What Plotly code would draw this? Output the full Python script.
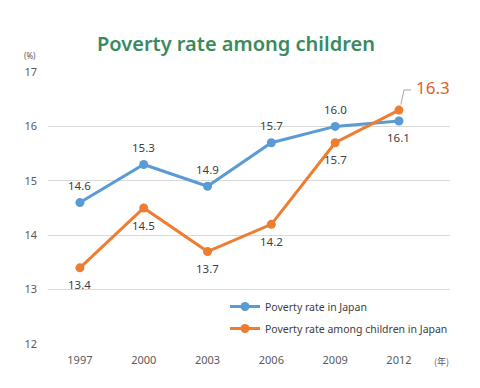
import plotly.graph_objects as go

years = ["1997", "2000", "2003", "2006", "2009", "2012"]
japan = [14.6, 15.3, 14.9, 15.7, 16.0, 16.1]
children = [13.4, 14.5, 13.7, 14.2, 15.7, 16.3]
japan_dir = [1, 1, 1, 1, 1, -1]      # label above (+1) or below (-1)
children_dir = [-1, -1, -1, -1, -1, 0]  # 0: separate callout

BLUE = "#5B9BD5"
ORANGE = "#ED7D31"
xs = list(range(len(years)))

# plot area in page pixels (body has an 8px margin)
PL, PR, PT, PB = 48, 450, 72, 344
W, H = PR - PL, PB - PT


def px(x):
    return (x - PL) / W


def py(y):
    return (PB - y) / H


fig = go.Figure()
fig.add_trace(go.Scatter(
    x=xs, y=japan, mode="lines+markers", name="Poverty rate in Japan",
    legendgroup="a",
    line=dict(color=BLUE, width=3), marker=dict(size=9, color=BLUE),
))
fig.add_trace(go.Scatter(
    x=xs, y=children, mode="lines+markers", name="Poverty rate among children in Japan",
    legendgroup="b",
    line=dict(color=ORANGE, width=3), marker=dict(size=9, color=ORANGE),
))

for series, dirs in ((japan, japan_dir), (children, children_dir)):
    for x, v, d in zip(xs, series, dirs):
        if d == 0:
            continue
        fig.add_annotation(x=x, y=v, xref="x", yref="y", text=f"{v:.1f}",
                           showarrow=False, yshift=17 * d, yanchor="middle",
                           font=dict(size=11.5, color="#404040"))

# big callout for the last child value with leader line
fig.add_annotation(x=5.24, y=16.71, xref="x", yref="y", text=f"{children[-1]:.1f}",
                   showarrow=False, xanchor="left", yanchor="middle",
                   font=dict(size=17, color="#E0622A", family="Noto Sans"))
fig.add_shape(type="path", xref="x", yref="y",
              path="M 5.03 16.40 L 5.08 16.67 L 5.19 16.67",
              line=dict(color="#a6a6a6", width=1))

fig.add_annotation(x=px(236), y=py(44), xref="paper", yref="paper",
                   text="Poverty rate among children",
                   showarrow=False, xanchor="center", yanchor="middle",
                   font=dict(size=20, color="#3a8a60", family="Noto Sans", weight=600))
fig.add_annotation(x=px(30), y=py(55), xref="paper", yref="paper", text="(%)",
                   showarrow=False, xanchor="center", yanchor="middle",
                   font=dict(size=8, color="#595959"))
fig.add_annotation(x=px(441), y=py(361), xref="paper", yref="paper", text="(年)",
                   showarrow=False, xanchor="center", yanchor="middle",
                   font=dict(size=9, color="#595959", family="Noto Sans CJK JP"))

fig.update_layout(
    width=472, height=380,
    margin=dict(l=PL - 8, r=472 + 8 - PR, t=PT - 8, b=380 + 8 - PB),
    paper_bgcolor="white", plot_bgcolor="white",
    font=dict(family="Noto Sans", color="#595959", size=11),
    showlegend=True,
    legend=dict(x=px(225), y=py(292), xanchor="left", yanchor="top",
                bgcolor="rgba(0,0,0,0)", font=dict(size=10.5, color="#404040"),
                tracegroupgap=3),
    xaxis=dict(range=[-0.5, 5.8], tickmode="array", tickvals=xs, ticktext=years,
               showgrid=False, zeroline=False, showline=False, ticks="",
               ticklabelstandoff=8,
               tickfont=dict(size=11, color="#595959")),
    yaxis=dict(range=[12, 17], dtick=1, showgrid=True, gridcolor="#d9d9d9",
               zeroline=False, showline=False, ticks="", ticklabelstandoff=10,
               tickfont=dict(size=11, color="#595959")),
)

fig.write_html("out.html")
